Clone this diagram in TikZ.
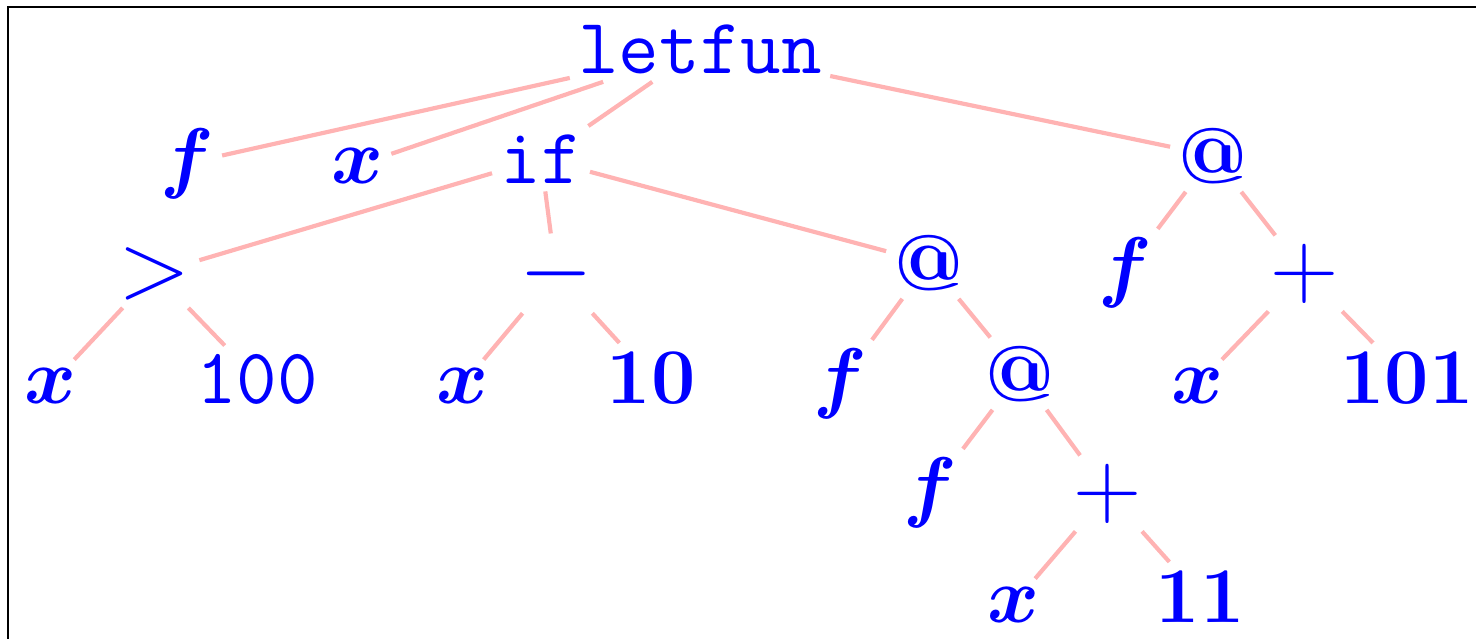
\documentclass[tikz,border=0pt]{standalone}
\usepackage{bm}
\usepackage{xcolor}
\usepackage{tikz}
\definecolor{termblue}{HTML}{0000FF}
\definecolor{edgepink}{HTML}{FFB3B3}

\begin{document}
\begin{tikzpicture}[
  x=0.263pt, y=-0.263pt,
  term/.style={text=termblue, font=\huge, anchor=base, inner sep=2pt},
  op/.style={term, font=\fontsize{27}{30}\selectfont},
  edge/.style={draw=edgepink, line width=1.1pt},
  frame/.style={draw=black, line width=0.7pt},
]
  \useasboundingbox (0,0) rectangle (1476,638);
  \draw[frame] (8,640) -- (8,7) -- (1480,7);

  % root and first level
  \node[term] (letfun) at (700,73) {\texttt{letfun}};
  \node[term] (fname) at (187,183) {$\bm{f}$};
  \node[term] (xarg) at (357,183) {$\bm{x}$};
  \node[term] (ifn) at (541,183) {\texttt{if}};
  \node[term] (appA) at (1213,183) {\textbf{@}};

  % second level
  \node[op] (gt) at (155,297) {$>$};
  \node[op] (minus) at (556,297) {$-$};
  \node[term] (appB) at (929,290) {\textbf{@}};
  \node[term] (fA) at (1125,292) {$\bm{f}$};
  \node[op] (plusA) at (1305,297) {$+$};

  % third level
  \node[term] (xgt) at (50,403) {$\bm{x}$};
  \node[term] (hundred) at (257,403) {\texttt{100}};
  \node[term] (xmin) at (462,403) {$\bm{x}$};
  \node[term] (ten) at (651,403) {\textbf{10}};
  \node[term] (fB) at (840,403) {$\bm{f}$};
  \node[term] (appC) at (1020,401) {\textbf{@}};
  \node[term] (xplA) at (1197,403) {$\bm{x}$};
  \node[term] (hundone) at (1407,403) {\textbf{101}};

  % fourth and fifth level
  \node[term] (fC) at (930,512) {$\bm{f}$};
  \node[op] (plusB) at (1108,517) {$+$};
  \node[term] (xplB) at (1013,622) {$\bm{x}$};
  \node[term] (eleven) at (1200,622) {\textbf{11}};

  \draw[edge] (letfun) -- (fname);
  \draw[edge] (letfun) -- (xarg);
  \draw[edge] (letfun) -- (ifn);
  \draw[edge] (letfun) -- (appA);
  \draw[edge] (ifn) -- (gt);
  \draw[edge] (ifn) -- (minus);
  \draw[edge] (ifn) -- (appB);
  \draw[edge] (gt) -- (xgt);
  \draw[edge] (gt) -- (hundred);
  \draw[edge] (minus) -- (xmin);
  \draw[edge] (minus) -- (ten);
  \draw[edge] (appB) -- (fB);
  \draw[edge] (appB) -- (appC);
  \draw[edge] (appC) -- (fC);
  \draw[edge] (appC) -- (plusB);
  \draw[edge] (plusB) -- (xplB);
  \draw[edge] (plusB) -- (eleven);
  \draw[edge] (appA) -- (fA);
  \draw[edge] (appA) -- (plusA);
  \draw[edge] (plusA) -- (xplA);
  \draw[edge] (plusA) -- (hundone);
\end{tikzpicture}
\end{document}
